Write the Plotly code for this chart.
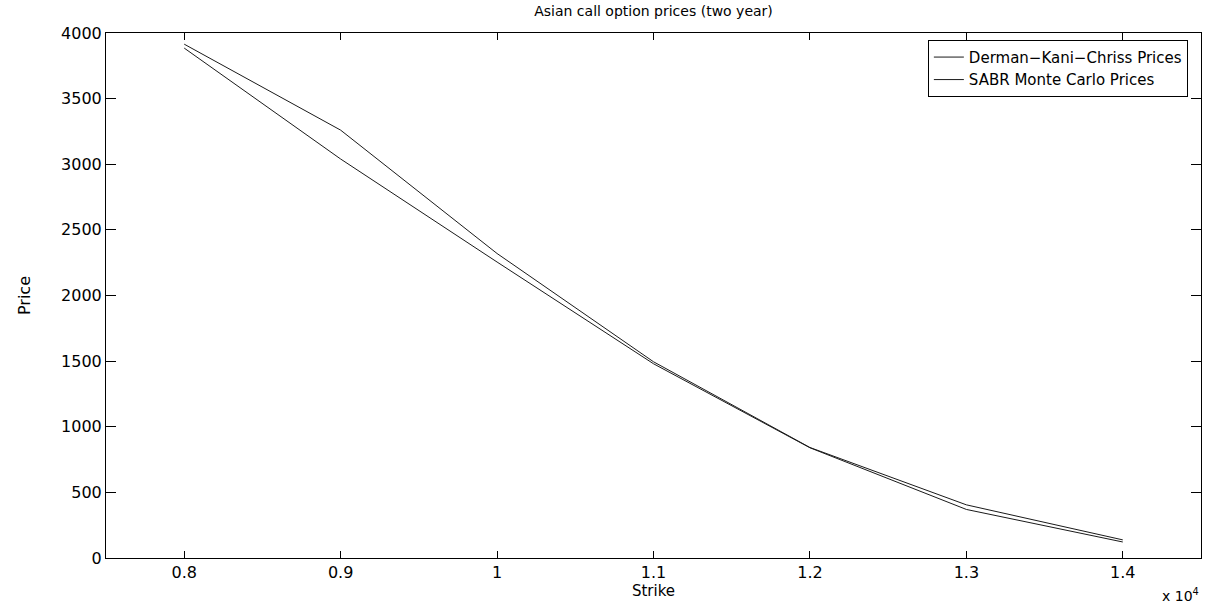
import plotly.graph_objects as go

# Strike levels and the two sets of two-year Asian call prices
strikes = [8000, 9000, 10000, 11000, 12000, 13000, 14000]
dkc_prices = [3915, 3260, 2320, 1495, 842, 405, 138]
sabr_prices = [3885, 3040, 2255, 1480, 840, 370, 122]

x_tick_vals = [8000, 9000, 10000, 11000, 12000, 13000, 14000]
x_tick_text = ["0.8", "0.9", "1", "1.1", "1.2", "1.3", "1.4"]
y_tick_vals = [0, 500, 1000, 1500, 2000, 2500, 3000, 3500, 4000]

FONT = "DejaVu Sans, Liberation Sans, Arial, sans-serif"

fig = go.Figure()
fig.add_trace(go.Scatter(
    x=strikes, y=dkc_prices, mode="lines",
    name="Derman\u2212Kani\u2212Chriss Prices",
    line=dict(color="#1a1a1a", width=1),
))
fig.add_trace(go.Scatter(
    x=strikes, y=sabr_prices, mode="lines",
    name="SABR Monte Carlo Prices",
    line=dict(color="#1a1a1a", width=1),
))

fig.update_layout(
    width=1211, height=605,
    paper_bgcolor="white", plot_bgcolor="white",
    margin=dict(l=106, r=10, t=33, b=47),
    font=dict(family=FONT, size=16, color="black"),
    title=dict(
        text="Asian call option prices (two year)",
        x=0.5, xref="paper", xanchor="center",
        y=1, yref="container", yanchor="top", pad=dict(t=6),
        font=dict(family=FONT, size=14, color="black"),
    ),
    showlegend=True,
    legend=dict(
        x=0.988, y=0.987, xanchor="right", yanchor="top",
        bgcolor="white", bordercolor="black", borderwidth=1,
        font=dict(family=FONT, size=15, color="black"),
        tracegroupgap=0, itemwidth=30,
    ),
    xaxis=dict(
        range=[7500, 14500],
        tickmode="array", tickvals=x_tick_vals, ticktext=x_tick_text,
        ticks="inside", ticklen=7, tickcolor="black", tickwidth=1,
        showline=True, linecolor="black", linewidth=1, mirror="ticks",
        showgrid=False, zeroline=False,
        tickfont=dict(family=FONT, size=16, color="black"),
        title=dict(text="Strike", standoff=2,
                   font=dict(family=FONT, size=15, color="black")),
    ),
    yaxis=dict(
        range=[0, 4000],
        tickmode="array", tickvals=y_tick_vals,
        ticks="inside", ticklen=10, tickcolor="black", tickwidth=1,
        showline=True, linecolor="black", linewidth=1, mirror="ticks",
        showgrid=False, zeroline=False,
        tickfont=dict(family=FONT, size=16, color="black"),
        title=dict(text="Price", standoff=26,
                   font=dict(family=FONT, size=16, color="black")),
    ),
    annotations=[dict(
        text="x 10<sup>4</sup>", xref="paper", yref="paper",
        x=1.0, y=0, xanchor="right", yanchor="middle", yshift=-37,
        showarrow=False, font=dict(family=FONT, size=14, color="black"),
    )],
)

fig.write_html("out.html")
